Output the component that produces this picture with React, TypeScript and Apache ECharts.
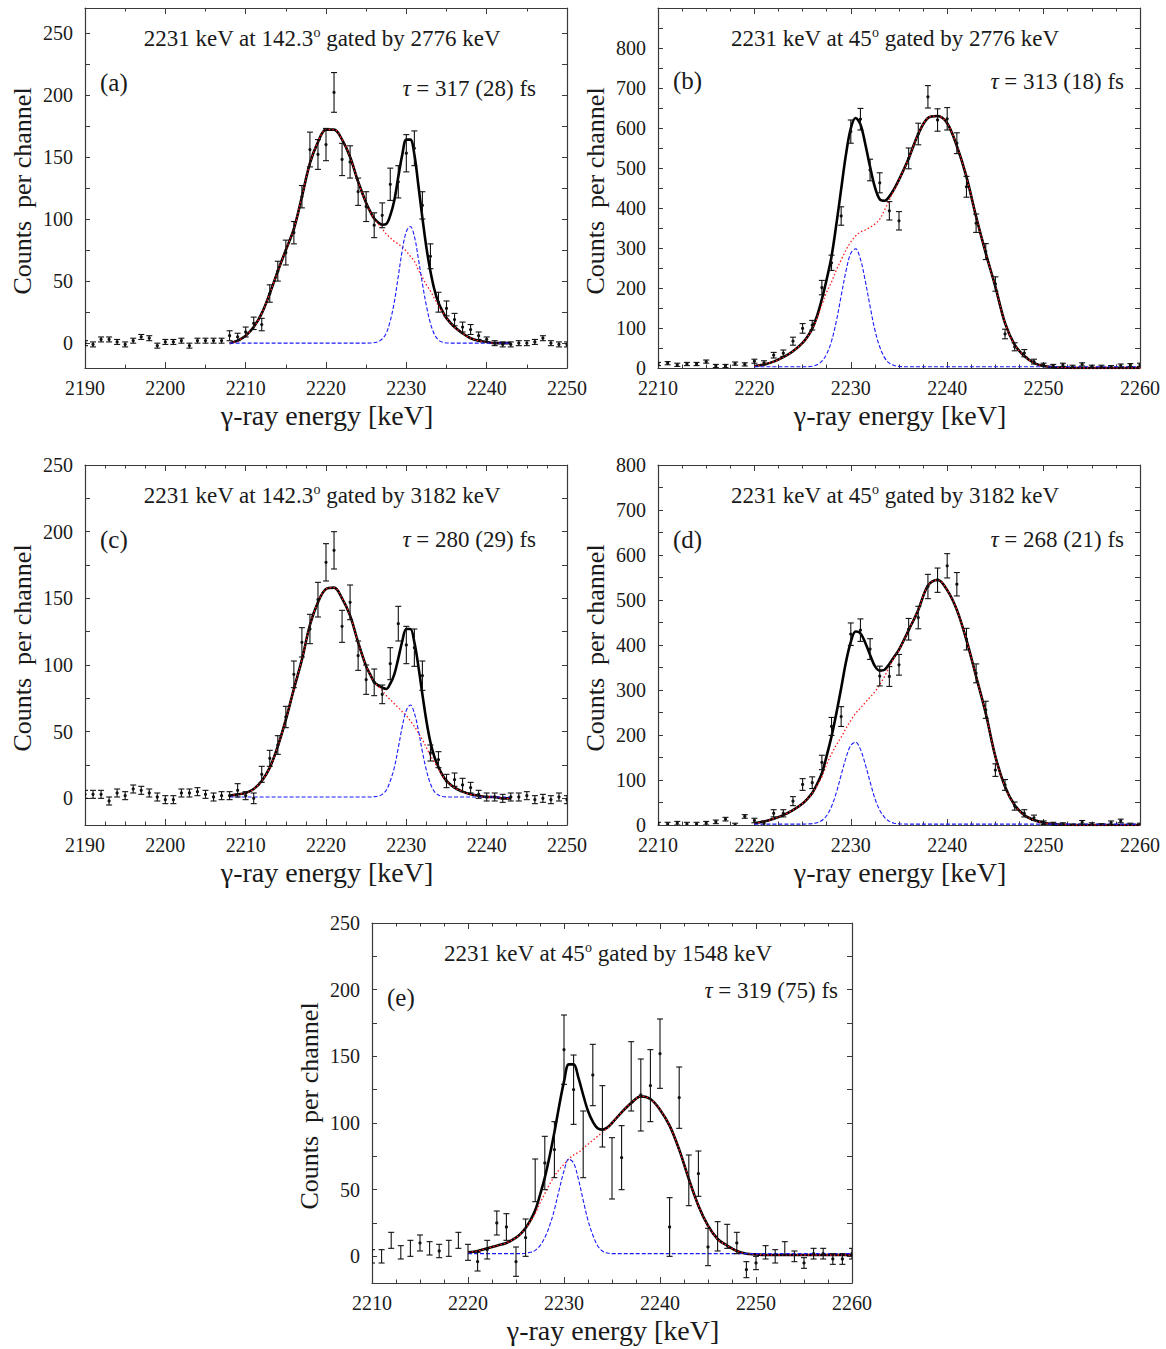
import React, { useEffect, useRef } from "react";
import * as echarts from "echarts";

const SERIF = '"Liberation Serif", "Times New Roman", serif';

// ---------------- data: measured spectra (1 keV channels) ----------------
const startA = 2190;
const countsA = [0, -1, 3, 3, 1, -1, 2, 5, 4, -2,
  1, 1, 2, -2, 2, 2, 2, 2, 6, 5,
  9, 16, 15, 40, 58, 73, 89, 118, 156, 152,
  160, 202, 148, 146, 122, 110, 95, 103, 128, 130,
  153, 157, 111, 70, 33, 28, 19, 13, 11, 6,
  3, 0, -1, -1, 0, 0, 1, 4, 0, -1, -1];
const errA = [2, 2, 2, 2, 2, 2, 2, 2, 2, 2,
  2, 2, 2, 2, 2, 2, 2, 2, 4, 3,
  4, 5, 5, 7, 8, 10, 9, 9, 14, 12,
  13, 16, 13, 13, 11, 12, 10, 10, 13, 13,
  15, 14, 11, 10, 8, 6, 5, 4, 4, 3,
  2, 2, 2, 2, 2, 2, 2, 2, 2, 2, 2];

const startB = 2210;
const countsB = [10, 12, 8, 10, 10, 16, 5, 5, 11, 9,
  17, 13, 32, 37, 67, 99, 107, 201, 263, 380,
  591, 622, 495, 463, 393, 368, 524, 585, 678, 620,
  623, 562, 453, 362, 291, 210, 85, 53, 37, 16,
  8, 5, 8, 3, 9, 3, 3, 2, 6, 7, 8];
const errB = [4, 4, 4, 4, 4, 4, 4, 4, 4, 4,
  5, 5, 7, 8, 10, 12, 12, 18, 19, 23,
  29, 27, 27, 25, 23, 23, 26, 27, 28, 28,
  28, 26, 26, 23, 20, 18, 12, 10, 9, 6,
  4, 4, 4, 4, 4, 4, 4, 4, 4, 4, 4];

const startC = 2190;
const countsC = [3, 3, 3, -2, 4, 2, 7, 6, 4, 1,
  -1, -1, 4, 4, 5, 3, 1, 2, 2, 6,
  2, 0, 18, 30, 40, 61, 93, 117, 127, 149,
  177, 186, 129, 147, 107, 89, 87, 78, 101, 131,
  115, 113, 92, 34, 29, 13, 14, 10, 8, 3,
  1, 1, 0, 1, 1, 2, -1, 0, -1, 1, -1];
const errC = [3, 3, 3, 3, 3, 3, 3, 3, 3, 3,
  3, 3, 3, 3, 3, 3, 3, 3, 3, 5,
  3, 4, 6, 6, 7, 8, 10, 11, 11, 13,
  14, 14, 12, 13, 11, 11, 10, 7, 12, 13,
  14, 14, 11, 6, 6, 5, 5, 5, 4, 3,
  3, 3, 3, 3, 3, 3, 3, 3, 3, 3, 3];

const startD = 2210;
const countsD = [2, 2, 4, 2, 2, 4, 7, 13, 0, 19,
  10, 4, 26, 26, 53, 90, 94, 139, 219, 241,
  424, 433, 391, 331, 330, 356, 435, 461, 530, 544,
  576, 535, 413, 337, 256, 122, 89, 42, 26, 16,
  5, 2, 1, -2, 6, 1, -1, 5, 9, 0, 0];
const errD = [4, 4, 4, 4, 4, 4, 4, 4, 4, 4,
  5, 5, 8, 8, 10, 13, 13, 16, 20, 22,
  25, 25, 23, 22, 22, 23, 24, 25, 27, 27,
  27, 26, 24, 21, 19, 14, 12, 9, 8, 6,
  4, 4, 4, 4, 4, 4, 4, 4, 4, 4, 4];

const startE = 2210;
const countsE = [0, 0, 12, 3, 6, 10, 6, 4, 6, 12,
  3, -4, 5, 25, 22, -4, 14, 57, 70, 80,
  155, 125, 84, 136, 105, 66, 74, 135, 121, 128,
  152, 22, 119, 57, 62, 7, 15, 15, 10, -10,
  -5, 3, 0, 6, 0, -5, 2, 2, -2, -2, 2];
const errE = [5, 5, 6, 5, 6, 6, 5, 5, 6, 6,
  6, 7, 7, 9, 10, 11, 14, 16, 20, 21,
  26, 26, 25, 23, 23, 23, 24, 26, 27, 27,
  26, 22, 23, 19, 17, 14, 11, 9, 8, 6,
  5, 5, 5, 5, 4, 4, 4, 4, 4, 4, 4];

// ---------------- data: fit components, sampled off the figure ----------------
const gridAC = [2208, 2209, 2210, 2211, 2212, 2213, 2214, 2215, 2216, 2217, 2218, 2219, 2220, 2221, 2222, 2223, 2224, 2225,
  2225.5, 2226, 2226.5, 2227, 2227.5, 2228, 2228.5, 2229, 2229.5, 2230, 2230.5, 2231, 2231.5, 2232, 2232.5, 2233, 2233.5, 2234, 2234.5, 2235,
  2236, 2237, 2238, 2239, 2240, 2241, 2242, 2243];
const gridBDE = [2220, 2221, 2222, 2223, 2224, 2225,
  2225.5, 2226, 2226.5, 2227, 2227.5, 2228, 2228.5, 2229, 2229.5, 2230, 2230.5, 2231, 2231.5, 2232, 2232.5, 2233, 2233.5, 2234, 2234.5, 2235,
  2236, 2237, 2238, 2239, 2240, 2241, 2242, 2243, 2244, 2245, 2246, 2247, 2248, 2249, 2250, 2251, 2252, 2253, 2254, 2255, 2256, 2257, 2258, 2259, 2260];

const redA = [0, 2, 6, 13, 24, 40, 58, 75, 92, 118, 145, 162, 172, 172, 164, 150, 130, 113,
  106, 100, 96, 92, 88, 85, 82, 80, 77, 74, 70, 66, 59, 53, 47, 42, 36, 30, 25, 20,
  13, 8, 4, 2, 1, 0, 0, 0];
const blueA = [0, 0, 0, 0, 0, 0, 0, 0, 0, 0, 0, 0, 0, 0, 0, 0, 0, 0,
  0.1, 0.4, 1.2, 3.4, 8, 18, 33, 54, 75, 90, 94, 86, 68, 48, 30, 16, 7, 2.5, 0.8, 0.2,
  0, 0, 0, 0, 0, 0, 0, 0];

const redC = [2, 3, 4, 7, 13, 23, 39, 59, 82, 104, 130, 147, 157, 158, 150, 137, 117, 99,
  93, 87, 84, 81, 77, 74, 71, 68, 65, 62, 58, 54, 49, 44, 38, 32, 27, 22, 17, 13,
  8, 5, 3, 2, 1, 1, 0, 0];
const blueC = [1, 1, 1, 1, 1, 1, 1, 1, 1, 1, 1, 1, 1, 1, 1, 1, 1, 1,
  1, 1.2, 1.7, 3, 6, 13, 23, 38, 54, 66, 70, 64, 51, 35, 21, 11, 5, 2.5, 1.4, 1.1,
  1, 1, 1, 1, 1, 1, 1, 1];

const redB = [5, 9, 16, 27, 42, 63,
  78, 97, 125, 158, 190, 215, 245, 270, 295, 315, 330, 340, 345, 352, 360, 372, 395, 420, 445, 470,
  524, 585, 625, 630, 612, 555, 478, 378, 287, 203, 112, 58, 30, 13, 5, 2, 1, 0, 0, 0, 0, 0, 0, 0, 0];
const blueB = [3, 3, 3, 3, 3, 3,
  3.3, 4.5, 8, 17, 35, 67, 117, 180, 242, 287, 298, 272, 218, 154, 95, 53, 26, 12, 6, 4,
  3, 3, 3, 3, 3, 3, 3, 3, 3, 3, 3, 3, 3, 3, 3, 3, 3, 3, 3, 3, 3, 3, 3, 3, 3];

const redD = [4, 8, 14, 22, 33, 48,
  58, 70, 88, 107, 135, 158, 178, 195, 215, 232, 248, 260, 272, 284, 296, 312, 330, 352, 372, 389,
  433, 478, 532, 545, 522, 478, 411, 330, 248, 152, 85, 44, 22, 11, 5, 2, 1, 0, 0, 0, 0, 0, 0, 0, 0];
const blueD = [2, 2, 2, 2, 2, 2,
  2.3, 3, 5, 10, 21, 41, 72, 111, 149, 177, 184, 168, 135, 96, 59, 33, 17, 8, 4, 2.6,
  2, 2, 2, 2, 2, 2, 2, 2, 2, 2, 2, 2, 2, 2, 2, 2, 2, 2, 2, 2, 2, 2, 2, 2, 2];

const redE = [3, 4, 6, 8, 10, 14,
  17, 21, 26, 32, 40, 47, 54, 60, 65, 69, 73, 76, 78, 81, 84, 87, 90, 93, 96, 100,
  108, 115, 120, 118, 110, 98, 80, 58, 38, 23, 13, 8, 4, 2, 1.5, 1, 1, 1, 1, 1, 1, 1, 1, 1, 1];
const blueE = [2, 2, 2, 2, 2, 2,
  2, 2.3, 3, 4.5, 8, 14, 23, 35, 50, 64, 73, 70, 58, 42, 27, 16, 8, 4, 2.5, 2,
  2, 2, 2, 2, 2, 2, 2, 2, 2, 2, 2, 2, 2, 2, 2, 2, 2, 2, 2, 2, 2, 2, 2, 2, 2];

// ---------------- tick labels ----------------
const yLabels250 = [0, 50, 100, 150, 200, 250];
const yTicks250 = [0, 25, 50, 75, 100, 125, 150, 175, 200, 225, 250];
const yLabels800 = [0, 100, 200, 300, 400, 500, 600, 700, 800];
const yTicks900 = [0, 50, 100, 150, 200, 250, 300, 350, 400, 450, 500, 550, 600, 650, 700, 750, 800, 850];
const yTicks800 = [0, 50, 100, 150, 200, 250, 300, 350, 400, 450, 500, 550, 600, 650, 700, 750];

const titles = [
  ["2231 keV at 142.3", "o", " gated by 2776 keV"],
  ["2231 keV at 45", "o", " gated by 2776 keV"],
  ["2231 keV at 142.3", "o", " gated by 3182 keV"],
  ["2231 keV at 45", "o", " gated by 3182 keV"],
  ["2231 keV at 45", "o", " gated by 1548 keV"],
];
const panelTags = ["(a)", "(b)", "(c)", "(d)", "(e)"];
const lifetimes = ["317 (28)", "313 (18)", "280 (29)", "268 (21)", "319 (75)"];

const panels = [
  { box: { left: 85, top: 8, width: 482, height: 360 }, x: [2190, 2250], minor: 2, y: [-20, 270], yl: yLabels250, yt: yTicks250,
    start: startA, counts: countsA, errs: errA, cx: gridAC, red: redA, blue: blueA, tagY: 82, tauY: 88, tauR: 536 },
  { box: { left: 658, top: 8, width: 482, height: 360 }, x: [2210, 2260], minor: 4, y: [0, 900], yl: yLabels800, yt: yTicks900,
    start: startB, counts: countsB, errs: errB, cx: gridBDE, red: redB, blue: blueB, tagY: 80, tauY: 81, tauR: 1124 },
  { box: { left: 85, top: 465, width: 482, height: 360 }, x: [2190, 2250], minor: 4, y: [-20, 250], yl: yLabels250, yt: yTicks250,
    start: startC, counts: countsC, errs: errC, cx: gridAC, red: redC, blue: blueC, tagY: 539, tauY: 539, tauR: 536 },
  { box: { left: 658, top: 465, width: 482, height: 360 }, x: [2210, 2260], minor: 4, y: [0, 800], yl: yLabels800, yt: yTicks800,
    start: startD, counts: countsD, errs: errD, cx: gridBDE, red: redD, blue: blueD, tagY: 539, tauY: 539, tauR: 1124 },
  { box: { left: 372, top: 923, width: 480, height: 360 }, x: [2210, 2260], minor: 4, y: [-20, 250], yl: yLabels250, yt: yTicks250,
    start: startE, counts: countsE, errs: errE, cx: gridBDE, red: redE, blue: blueE, tagY: 997, tauY: 990, tauR: 838 },
];

const AX = "#3a3a3a";
const TXT = "#1a1a1a";

function buildOption() {
  const grid: any[] = [];
  const xAxis: any[] = [];
  const yAxis: any[] = [];
  const series: any[] = [];
  const graphic: any[] = [];

  panels.forEach((p, i) => {
    grid.push({ ...p.box, containLabel: false });
    const xBase = {
      gridIndex: i, type: "value", min: p.x[0], max: p.x[1], interval: 10,
      axisLine: { show: true, onZero: false, lineStyle: { color: AX, width: 1.2 } },
      axisTick: { show: true, inside: true, length: 6, lineStyle: { color: AX } },
      minorTick: { show: true, splitNumber: p.minor, length: 3.5, lineStyle: { color: AX } },
      splitLine: { show: false }, minorSplitLine: { show: false },
    };
    xAxis.push({ ...xBase, position: "bottom",
      axisLabel: { show: true, margin: 10, fontSize: 20, fontFamily: SERIF, color: TXT, showMinLabel: true, showMaxLabel: true,
        formatter: (v: number) => String(v) } });
    xAxis.push({ ...xBase, position: "top", axisLabel: { show: false } });
    const yBase = {
      gridIndex: i, type: "value", min: p.y[0], max: p.y[1],
      axisLine: { show: true, onZero: false, lineStyle: { color: AX, width: 1.2 } },
      axisTick: { show: true, inside: true, length: 5, customValues: p.yt, lineStyle: { color: AX } },
      splitLine: { show: false },
    };
    yAxis.push({ ...yBase, position: "left",
      axisLabel: { show: true, margin: 12, fontSize: 20, fontFamily: SERIF, color: TXT, customValues: p.yl,
        formatter: (v: number) => String(v) } });
    yAxis.push({ ...yBase, position: "right", axisLabel: { show: false } });

    const ax = { xAxisIndex: 2 * i, yAxisIndex: 2 * i };
    const bg = p.blue[0];
    const black = p.cx.map((x, k) => [x, p.red[k] + p.blue[k] - bg]);
    const red = p.cx.map((x, k) => [x, p.red[k]]);
    const blue = p.cx.map((x, k) => [x, p.blue[k]]);
    const pts = p.counts.map((v, k) => [p.start + k, v, p.errs[k]]);

    series.push({ type: "line", ...ax, data: black, showSymbol: false, smooth: 0.35, silent: true, z: 2,
      lineStyle: { color: "#000", width: 2.6 } });
    series.push({ type: "line", ...ax, data: red, showSymbol: false, smooth: 0.35, silent: true, z: 3,
      lineStyle: { color: "#ff1a1a", width: 1.3, type: [1.5, 2.2] } });
    series.push({ type: "line", ...ax, data: blue, showSymbol: false, smooth: 0.35, silent: true, z: 3,
      lineStyle: { color: "#1a1aff", width: 1.1, type: [4, 2] } });
    series.push({
      type: "custom", ...ax, data: pts, clip: true, silent: true, z: 4,
      renderItem: (params: any, api: any) => {
        const x = api.value(0), y = api.value(1), e = api.value(2);
        const top = api.coord([x, y + e]);
        const bot = api.coord([x, y - e]);
        const c = api.coord([x, y]);
        const w = 3;
        const st = { stroke: "#111", lineWidth: 1.1 };
        return {
          type: "group",
          children: [
            { type: "line", shape: { x1: top[0], y1: top[1], x2: bot[0], y2: bot[1] }, style: st },
            { type: "line", shape: { x1: top[0] - w, y1: top[1], x2: top[0] + w, y2: top[1] }, style: st },
            { type: "line", shape: { x1: bot[0] - w, y1: bot[1], x2: bot[0] + w, y2: bot[1] }, style: st },
            { type: "circle", shape: { cx: c[0], cy: c[1], r: 1.6 }, style: { fill: "#111" } },
          ],
        };
      },
    });

    // annotations
    const b = p.box;
    const cxp = b.left + b.width / 2 - 4;
    const t = titles[i];
    graphic.push({
      type: "text", x: cxp, y: b.top + 30, silent: true,
      style: {
        text: `{t|${t[0]}}{s|${t[1]}}{t|${t[2]}}`,
        rich: {
          t: { fontSize: 23, fontFamily: SERIF, fill: TXT, color: TXT, lineHeight: 26 },
          s: { fontSize: 14, fontFamily: SERIF, fill: TXT, color: TXT, verticalAlign: "top", lineHeight: 26 },
        },
        textAlign: "center", align: "center", textVerticalAlign: "middle", verticalAlign: "middle",
      },
    });
    graphic.push({
      type: "text", x: b.left + 15, y: p.tagY, silent: true,
      style: { text: panelTags[i], font: `25px ${SERIF}`, fill: TXT, textAlign: "left", align: "left", textVerticalAlign: "middle", verticalAlign: "middle" },
    });
    graphic.push({
      type: "text", x: p.tauR, y: p.tauY, silent: true,
      style: {
        text: `{i|τ}{n| = ${lifetimes[i]} fs}`,
        rich: {
          i: { fontSize: 23, fontFamily: SERIF, fontStyle: "italic", fill: TXT, color: TXT },
          n: { fontSize: 23, fontFamily: SERIF, fill: TXT, color: TXT },
        },
        textAlign: "right", align: "right", textVerticalAlign: "middle", verticalAlign: "middle",
      },
    });
    graphic.push({
      type: "text", x: b.left - 63, y: b.top + b.height / 2 + 3, rotation: Math.PI / 2, silent: true,
      style: { text: "Counts  per channel", font: `26px ${SERIF}`, fill: TXT, textAlign: "center", align: "center", textVerticalAlign: "middle", verticalAlign: "middle" },
    });
    graphic.push({
      type: "text", x: b.left + b.width / 2 + 1, y: b.top + b.height + 47, silent: true,
      style: {
        text: "{g|γ}{n|-ray energy [keV]}",
        rich: {
          g: { fontSize: 28, fontFamily: SERIF, fill: TXT, color: TXT },
          n: { fontSize: 28, fontFamily: SERIF, fill: TXT, color: TXT },
        },
        textAlign: "center", align: "center", textVerticalAlign: "middle", verticalAlign: "middle",
      },
    });
  });

  return { animation: false, backgroundColor: "#fff", grid, xAxis, yAxis, series, graphic };
}

export default function App() {
  const ref = useRef<HTMLDivElement>(null);
  useEffect(() => {
    const chart = echarts.init(ref.current as HTMLDivElement, null, { renderer: "svg" });
    chart.setOption(buildOption() as any);
    return () => chart.dispose();
  }, []);
  return (
    <div
      ref={ref}
      style={{ position: "absolute", left: 0, top: 0, width: 1166, height: 1349, background: "#fff" }}
    />
  );
}
